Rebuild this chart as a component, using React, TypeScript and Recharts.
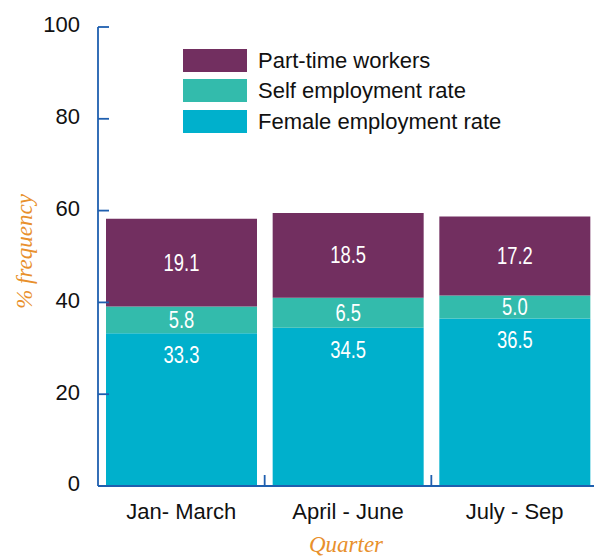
import React from 'react';
import { BarChart, Bar, XAxis, YAxis, LabelList, Label, Legend } from 'recharts';

const quarters = ['Jan- March', 'April - June', 'July - Sep'];
const femaleEmployment = [33.3, 34.5, 36.5];
const selfEmployment = [5.8, 6.5, 5.0];
const partTime = [19.1, 18.5, 17.2];
const yTicks = [0, 20, 40, 60, 80, 100];

const seriesNames = {
  female: 'Female employment rate',
  self: 'Self employment rate',
  part: 'Part-time workers',
};

const COLORS = {
  female: '#00B0CC',
  self: '#33BBAC',
  part: '#722F60',
};

const AXIS = '#1F5FAF';
const ORANGE = '#E8902C';
const SANS = "'Liberation Sans', Arial, Helvetica, sans-serif";
const SERIF = "'Liberation Serif', 'Times New Roman', serif";

const data = quarters.map((q, i) => ({
  quarter: q,
  female: femaleEmployment[i],
  self: selfEmployment[i],
  part: partTime[i],
}));

const YTick = (props: any) => {
  const { x, y, payload } = props;
  return (
    <g>
      <line x1={x + 18} x2={x + 29} y1={y} y2={y} stroke={AXIS} strokeWidth={1.8} />
      <text x={x} y={y + 5.4} textAnchor="end" fontSize={22} fontFamily={SANS} fill="#111">
        {payload.value}
      </text>
    </g>
  );
};

const XTick = (props: any) => {
  const { x, y, payload, index } = props;
  const half = 500 / quarters.length / 2;
  return (
    <g>
      {index < quarters.length - 1 && (
        <line x1={x + half} x2={x + half} y1={y} y2={y - 11} stroke={AXIS} strokeWidth={1.8} />
      )}
      <text x={x} y={y + 33} textAnchor="middle" fontSize={22} fontFamily={SANS} fill="#111">
        {payload.value}
      </text>
    </g>
  );
};

const legendItems = [
  { key: 'part', name: seriesNames.part, color: COLORS.part },
  { key: 'self', name: seriesNames.self, color: COLORS.self },
  { key: 'female', name: seriesNames.female, color: COLORS.female },
];

const LegendContent = () => (
  <div>
    {legendItems.map((it) => (
      <div key={it.key} style={{ display: 'flex', alignItems: 'center', height: 30.5 }}>
        <div style={{ width: 64, height: 23, background: it.color, boxSizing: 'border-box' }} />
        <span style={{ marginLeft: 11, fontFamily: SANS, fontSize: 22, color: '#111', whiteSpace: 'nowrap', lineHeight: '23px' }}>
          {it.name}
        </span>
      </div>
    ))}
  </div>
);

const makeBarLabel = (mode: 'center' | 'top') => (p: any) => {
  const { x, y, width, height, value } = p;
  if (value == null) return null;
  const cx = Number(x) + Number(width) / 2;
  const cy = mode === 'center' ? Number(y) + Number(height) / 2 : Number(y) + 22;
  return (
    <text
      transform={`translate(${cx} ${cy + 8}) scale(0.8 1)`}
      textAnchor="middle"
      fontSize={23}
      fontFamily={SANS}
      fill="#fff"
    >
      {Number(value).toFixed(1)}
    </text>
  );
};

export default function App() {
  return (
    <div style={{ position: 'absolute', left: 0, top: 0, width: 594, height: 557, overflow: 'hidden', background: '#fff' }}>
      <BarChart
        width={600}
        height={557}
        data={data}
        margin={{ top: 27, right: 2, bottom: 0, left: 0 }}
        barCategoryGap={8}
      >
        <YAxis
          width={98}
          domain={[0, 100]}
          ticks={yTicks}
          interval={0}
          tickSize={0}
          tickMargin={18}
          tickLine={false}
          axisLine={{ stroke: AXIS, strokeWidth: 1.8 }}
          tick={<YTick />}
        >
          <Label
            content={(p: any) => {
              const vb = p.viewBox || { x: 0, y: 27, width: 98, height: 459 };
              const cx = vb.x + 24;
              const cy = vb.y + vb.height / 2 - 5;
              return (
                <text
                  x={cx}
                  y={cy}
                  transform={`rotate(-90 ${cx} ${cy})`}
                  textAnchor="middle"
                  dominantBaseline="central"
                  fontFamily={SERIF}
                  fontStyle="italic"
                  fontSize={23}
                  fill={ORANGE}
                >
                  % frequency
                </text>
              );
            }}
          />
        </YAxis>
        <XAxis
          dataKey="quarter"
          height={71}
          interval={0}
          tickSize={0}
          tickMargin={0}
          tickLine={false}
          axisLine={{ stroke: AXIS, strokeWidth: 1.8 }}
          tick={<XTick />}
        >
          <Label
            content={(p: any) => {
              const vb = p.viewBox || { x: 98, y: 486, width: 500, height: 71 };
              return (
                <text
                  x={vb.x + vb.width / 2 - 2}
                  y={vb.y + 66}
                  textAnchor="middle"
                  fontFamily={SERIF}
                  fontStyle="italic"
                  fontSize={23}
                  fill={ORANGE}
                >
                  Quarter
                </text>
              );
            }}
          />
        </XAxis>
        <Legend
          layout="horizontal"
          verticalAlign="middle"
          align="center"
          content={<LegendContent />}
          wrapperStyle={{ top: 45, left: 183, width: 'auto', height: 'auto' }}
        />
        <Bar dataKey="female" name={seriesNames.female} stackId="a" fill={COLORS.female} isAnimationActive={false}>
          <LabelList dataKey="female" content={makeBarLabel('top')} />
        </Bar>
        <Bar dataKey="self" name={seriesNames.self} stackId="a" fill={COLORS.self} isAnimationActive={false}>
          <LabelList dataKey="self" content={makeBarLabel('center')} />
        </Bar>
        <Bar dataKey="part" name={seriesNames.part} stackId="a" fill={COLORS.part} isAnimationActive={false}>
          <LabelList dataKey="part" content={makeBarLabel('center')} />
        </Bar>
      </BarChart>
    </div>
  );
}
